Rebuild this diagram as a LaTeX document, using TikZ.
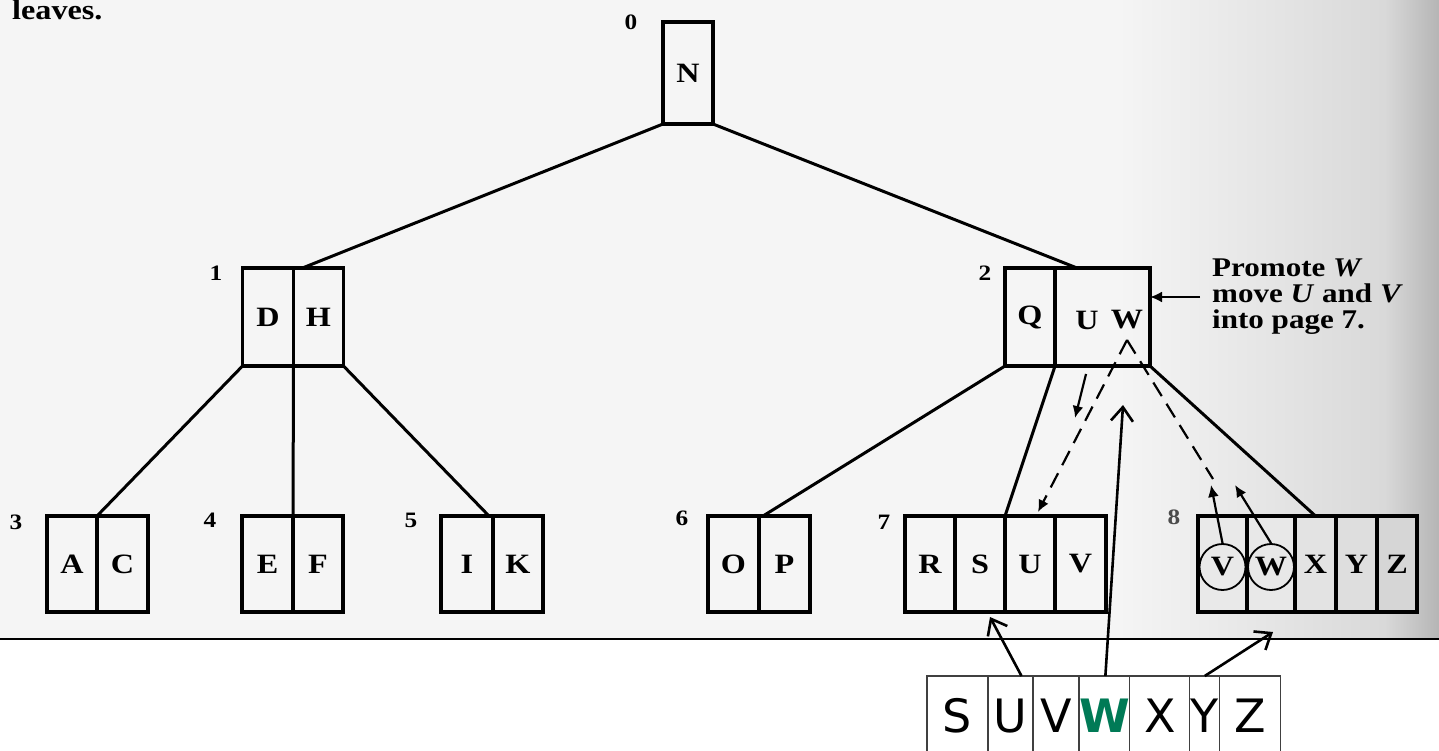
\documentclass[tikz,border=0pt]{standalone}
\usepackage{fontspec}
\setmainfont{Liberation Serif}
\newfontfamily\scanfont{Liberation Serif}[FakeStretch=1.15]
\newfontfamily\notefont{DejaVu Sans}
\usepackage{tikz}
\usetikzlibrary{arrows.meta,positioning,calc}
\definecolor{promgreen}{RGB}{0,122,86}

\begin{document}
\begin{tikzpicture}[x=1pt,y=-1pt,
        cell/.style={
                draw=black,
                line width=3.6pt,
                inner sep=0pt,
                outer sep=0pt,
                minimum width=50pt,
                minimum height=96pt,
                font=\scanfont\bfseries\fontsize{28}{28}\selectfont
            },
        ring/.style={
                circle,
                draw=black,
                line width=1.8pt,
                inner sep=0pt,
                minimum size=46pt,
                font=\scanfont\bfseries\fontsize{28}{28}\selectfont
            },
        pagenum/.style={
                inner sep=0pt,
                font=\scanfont\bfseries\fontsize{22}{22}\selectfont
            },
        note/.style={
                inner sep=0pt,
                align=left,
                font=\scanfont\bfseries\fontsize{27}{26}\selectfont
            },
        edge/.style={line width=3pt},
        move/.style={line width=2.2pt, -{Latex[length=12pt,width=11pt]}},
        dashmove/.style={line width=2.2pt, dash pattern=on 16pt off 9pt},
        ocell/.style={
                draw=black!75,
                line width=1.3pt,
                inner sep=0pt,
                outer sep=0pt,
                minimum height=80pt,
                font=\notefont\fontsize{46}{46}\selectfont
            },
        point/.style={line width=2.6pt, -{Straight Barb[length=14pt,width=22pt]}}
    ]
    \useasboundingbox (0,0) rectangle (1439,751);
    \clip (0,0) rectangle (1439,751);

    %scanned page
    \fill[gray!8] (0,0) rectangle (1439,639);
    \shade[left color=gray!8, right color=gray!30] (1120,0) rectangle (1386,639);
    \shade[left color=gray!30, right color=gray!58] (1385,0) rectangle (1439,639);
    \node[anchor=base west, inner sep=0pt, font=\scanfont\bfseries\fontsize{28}{28}\selectfont] (lead) at (12,20) {leaves.};

    %root
    \node[cell, minimum height=102pt] (n0) at (688,73) {N};
    \node[pagenum] (p0) at (631,22) {0};

    %inner pages
    \node[cell, minimum height=98pt, minimum width=51pt] (n1a) at (268,317) {D};
    \node[cell, minimum height=98pt, minimum width=50pt, right=0pt of n1a] (n1b) {H};
    \node[pagenum] (p1) at (216,273) {1};

    \node[cell, minimum height=98pt] (n2a) at (1030,317) {Q};
    \node[cell, minimum height=98pt, minimum width=95pt, right=0pt of n2a] (n2b) {};
    \node[cell, draw=none] (u2) at (1087,320) {U};
    \node[cell, draw=none] (w2) at (1127,320) {W};
    \node[pagenum] (p2) at (985,273) {2};

    %leaves
    \node[cell] (l3a) at (72,564) {A};
    \node[cell, minimum width=51pt, right=0pt of l3a] (l3b) {C};
    \node[pagenum] (p3) at (16,522) {3};

    \node[cell, minimum width=51pt] (l4a) at (267.5,564) {E};
    \node[cell, right=0pt of l4a] (l4b) {F};
    \node[pagenum] (p4) at (210,520) {4};

    \node[cell, minimum width=52pt] (l5a) at (467,564) {I};
    \node[cell, right=0pt of l5a] (l5b) {K};
    \node[pagenum] (p5) at (411,520) {5};

    \node[cell, minimum width=51pt] (l6a) at (733.5,564) {O};
    \node[cell, minimum width=51pt, right=0pt of l6a] (l6b) {P};
    \node[pagenum] (p6) at (682,518) {6};

    \node[cell] (l7a) at (930,564) {R};
    \node[cell, right=0pt of l7a] (l7b) {S};
    \node[cell, right=0pt of l7b] (l7c) {U};
    \node[cell, minimum width=51pt, right=0pt of l7c] (l7d) {V};
    \node[pagenum] (p7) at (884,522) {7};

    \node[cell, fill=gray!17, minimum width=49pt] (l8a) at (1222.5,564) {};
    \node[cell, fill=gray!18, minimum width=48pt, right=0pt of l8a] (l8b) {};
    \node[cell, fill=gray!22, minimum width=41pt, right=0pt of l8b] (l8c) {X};
    \node[cell, fill=gray!26, minimum width=41pt, right=0pt of l8c] (l8d) {Y};
    \node[cell, fill=gray!32, minimum width=40pt, right=0pt of l8d] (l8e) {Z};
    \node[ring] (cv) at ($(l8a.center)+(0,3)$) {V};
    \node[ring] (cw) at ($(l8b.center)+(0,3)$) {W};
    \node[pagenum, text=black!70] (p8) at (1174,517) {8};

    %tree edges
    \draw[edge] (n0.south west) -- ($(n1a.north east)+(9,0)$);
    \draw[edge] (n0.south east) -- ($(n2b.north west)+(22,0)$);
    \draw[edge] (n1a.south west) -- (l3a.north east);
    \draw[edge] (n1a.south east) -- (l4a.north east);
    \draw[edge] (n1b.south east) -- ($(l5a.north east)+(-4,0)$);
    \draw[edge] (n2a.south west) -- ($(l6a.north east)+(4,0)$);
    \draw[edge] (n2a.south east) -- (l7b.north east);
    \draw[edge] (n2b.south east) -- (l8c.north);

    %moving keys
    \coordinate (udrop) at (1075,418);
    \coordinate (wtop) at (1127,340);
    \coordinate (vtip) at (1211,485);
    \coordinate (wtip) at (1235,485);
    \draw[move] ($(u2.south)+(-1,6)$) -- (udrop);
    \draw[dashmove, -{Latex[length=12pt,width=11pt]}] (wtop) -- ($(l7c.north)+(8,-4)$);
    \draw[dashmove] (wtop) -- ($(vtip)+(2,-6)$);
    \draw[move] (cv.north) -- (vtip);
    \draw[move] (cw.north) -- (wtip);

    %remark
    \node[note, anchor=west] (promote) at (1212,297) {Promote \textit{W}\\move \textit{U} and \textit{V}\\into page 7.};
    \draw[move] ($(promote.west)+(-12,0)$) -- (n2b.east |- promote.west);

    %overlay
    \draw[line width=2.2pt] (0,639) -- (1439,639);
    \node[ocell, minimum width=61pt] (oS) at (957.5,716) {S};
    \node[ocell, minimum width=45pt, right=0pt of oS] (oU) {U};
    \node[ocell, minimum width=46pt, right=0pt of oU] (oV) {V};
    \node[ocell, minimum width=45pt, right=0pt of oV, text=promgreen, font=\notefont\bfseries\fontsize{46}{46}\selectfont] (oW) {W};
    \node[ocell, minimum width=60pt, right=0pt of oW] (oX) {X};
    \node[ocell, minimum width=30pt, right=0pt of oX] (oY) {Y};
    \node[ocell, minimum width=61pt, right=0pt of oY] (oZ) {Z};

    \coordinate (stip) at ($(l7b.south)+(10,5)$);
    \coordinate (wmark) at (1123,405);
    \coordinate (ztip) at ($(l8b.south)+(2,20)$);
    \draw[point] ($(oU.north)+(11,0)$) -- (stip);
    \draw[point] ($(oW.north)+(1,0)$) -- (wmark);
    \draw[point] (oY.north) -- (ztip);
\end{tikzpicture}
\end{document}
